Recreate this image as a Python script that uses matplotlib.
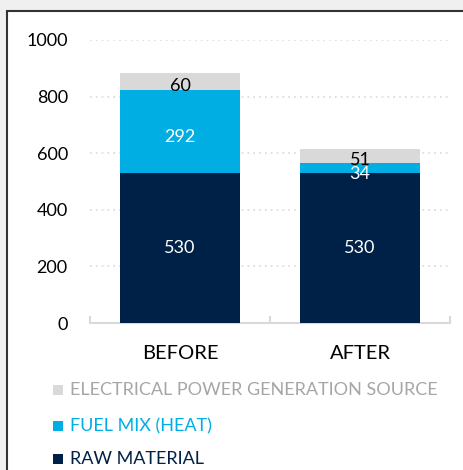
import matplotlib
matplotlib.use("Agg")
import matplotlib.pyplot as plt
from matplotlib.patches import Rectangle

categories = ["BEFORE", "AFTER"]
raw_material = [530, 530]
fuel_mix = [292, 34]
electrical = [60, 51]
series_names = ["ELECTRICAL POWER GENERATION SOURCE", "FUEL MIX (HEAT)", "RAW MATERIAL"]
yticks = [0, 200, 400, 600, 800, 1000]

c_navy = "#002147"
c_blue = "#00aee4"
c_gray = "#d9d9d9"

plt.rcParams['font.family'] = ['Lato', 'DejaVu Sans']

W, H = 464, 470
fig = plt.figure(figsize=(W/100, H/100), dpi=100)
fig.patch.set_facecolor("#f0f0f0")
# white panel with dark border
bg = fig.add_axes([0, 0, 1, 1], zorder=0)
bg.set_xlim(0, W)
bg.set_ylim(H, 0)
bg.axis("off")
bg.add_patch(Rectangle((7, 11), W + 20, H + 20, facecolor="white", edgecolor="#333333", linewidth=1.5))

ax = fig.add_axes([90/W, 1 - 323/H, 360/W, (323-40)/H], zorder=2)
ax.set_facecolor("none")
x = list(range(len(categories)))
w = 0.667
b1 = ax.bar(x, raw_material, width=w, color=c_navy, zorder=3)
b2 = ax.bar(x, fuel_mix, width=w, bottom=raw_material, color=c_blue, zorder=3)
bot3 = [a + b for a, b in zip(raw_material, fuel_mix)]
b3 = ax.bar(x, electrical, width=w, bottom=bot3, color=c_gray, zorder=3)

ax.bar_label(b1, labels=[str(v) for v in raw_material], label_type="center", color="white", fontsize=13)
# segment labels, nudged slightly downward like the reference
for xi, base, v in zip(x, raw_material, fuel_mix):
    ax.annotate(str(v), (xi, base + v / 2), xytext=(0, -4), textcoords="offset points",
                ha="center", va="center", color="white", fontsize=13, zorder=4)
for xi, base, v in zip(x, bot3, electrical):
    ax.annotate(str(v), (xi, base + v / 2), xytext=(0, -3), textcoords="offset points",
                ha="center", va="center", color="black", fontsize=13, zorder=4)

ax.set_xlim(-0.5, 1.5)
ax.set_ylim(0, 1000)
ax.set_yticks(yticks)
ax.set_yticklabels([str(t) for t in yticks], fontsize=13)
ax.tick_params(axis="y", length=0, pad=16)
ax.set_xticks(x)
ax.set_xticklabels(categories, fontsize=14.5)
ax.tick_params(axis="x", length=0, pad=16)
ax.set_xticks([-0.5, 0.5, 1.5], minor=True)
ax.tick_params(axis="x", which="minor", direction="in", length=5, color="#d9d9d9", width=1.5)
for t in yticks[1:]:
    ax.axhline(t, color="#d9d9d9", linestyle=(0, (1, 2.5)), linewidth=1.2, zorder=1)
for s in ["top", "right", "left"]:
    ax.spines[s].set_visible(False)
ax.spines["bottom"].set_color("#d9d9d9")
ax.spines["bottom"].set_linewidth(1.5)

# legend
leg_colors = [c_gray, c_blue, c_navy]
leg_text_colors = ["#a6a6a6", c_blue, c_navy]
leg_y = [390, 426, 459]
for name, c, tc, yy in zip(series_names, leg_colors, leg_text_colors, leg_y):
    bg.add_patch(Rectangle((53, yy - 5), 10, 10, facecolor=c, edgecolor="none"))
    bg.text(70, yy, name, color=tc, fontsize=13, va="center", ha="left")

fig.savefig("out.png", dpi=100, facecolor=fig.get_facecolor())
